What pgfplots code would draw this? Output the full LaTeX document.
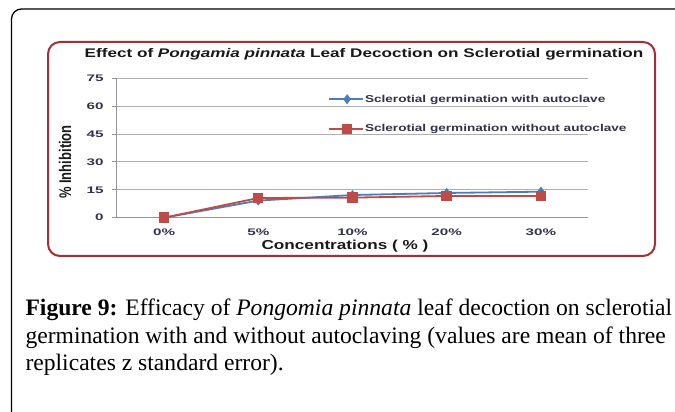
\documentclass[border=0pt]{standalone}
\usepackage{pgfplots}
\pgfplotsset{compat=1.18}
\usepackage{fontspec}
\setmainfont{Liberation Serif}
\newfontfamily\arialf{Liberation Sans}
\usepackage{graphicx}

\definecolor{serblue}{RGB}{74,126,187}
\definecolor{serred}{RGB}{190,75,72}
\definecolor{framered}{RGB}{160,50,55}
\definecolor{gridgray}{RGB}{175,175,175}
\definecolor{ticktext}{RGB}{50,50,75}

\begin{document}
\begin{tikzpicture}[x=1pt,y=1pt]
\useasboundingbox (0,0) rectangle (675,412);
\fill[white] (0,0) rectangle (675,412);
\draw[line width=1.3pt, rounded corners=10pt] (11.5,-5) -- (11.5,403) -- (690,403);
\draw[framered, line width=2pt, rounded corners=12pt] (48,156) rectangle (655,370);
\begin{axis}[
  at={(117pt,194.3pt)}, anchor=south west, scale only axis,
  width=471pt, height=139.4pt,
  xmin=-0.5, xmax=4.5, ymin=0, ymax=75,
  clip=false,
  axis lines*=left,
  axis line style={gridgray!85!black, line width=1pt},
  tick align=outside, tick pos=left,
  major tick length=5pt,
  tick style={gridgray!85!black, line width=1pt},
  ytick={0,15,30,45,60,75},
  yticklabels={\scalebox{1.6}[1]{0},\scalebox{1.6}[1]{15},\scalebox{1.6}[1]{30},\scalebox{1.6}[1]{45},\scalebox{1.6}[1]{60},\scalebox{1.6}[1]{75}},
  ymajorgrids, grid style={gridgray, line width=0.9pt},
  xtick={0,1,2,3,4},
  xticklabels={\scalebox{1.6}[1]{0\%},\scalebox{1.6}[1]{5\%},\scalebox{1.6}[1]{10\%},\scalebox{1.6}[1]{20\%},\scalebox{1.6}[1]{30\%}},
  x tick style={draw=none},
  extra x ticks={-0.5,0.5,1.5,2.5,3.5,4.5},
  extra x tick labels={},
  extra x tick style={grid=none, tick style={draw=gridgray!85!black, line width=1pt}},
  ticklabel style={font=\arialf\bfseries\fontsize{9.5}{10}\selectfont, text=ticktext},
  yticklabel style={xshift=-5pt},
  xticklabel style={yshift=-3pt},
  legend style={at={(0.448,0.89)}, anchor=north west, draw=none, fill=none,
    inner sep=0pt, row sep=19pt,
    font=\arialf\bfseries\fontsize{10}{11}\selectfont, text=ticktext,
    nodes={inner sep=1pt}},
  legend cell align=left,
  legend image code/.code={\draw[mark repeat=2,mark phase=2,#1] plot coordinates {(0pt,0pt)(18pt,0pt)(34pt,0pt)};},
]
\addplot[serblue, line width=1.8pt, mark=diamond*, mark size=3.6pt, mark options={solid, fill=serblue}]
  coordinates {(0,0) (1,9.2) (2,12.2) (3,13.3) (4,14.0)};
\addlegendentry{\scalebox{1.36}[1]{Sclerotial germination with autoclave}}
\addplot[serred, line width=1.8pt, mark=square*, mark size=4.3pt, mark options={solid, fill=serred}]
  coordinates {(0,0) (1,10.6) (2,10.8) (3,11.7) (4,11.7)};
\addlegendentry{\scalebox{1.36}[1]{Sclerotial germination without autoclave}}
\end{axis}
\node[anchor=base, font=\arialf\bfseries\fontsize{12.5}{13}\selectfont, text=black!90] at (364,354.7)
  {\scalebox{1.37}[1]{Effect of \textit{Pongamia pinnata} Leaf Decoction on Sclerotial germination}};
\node[rotate=90, font=\arialf\bfseries\fontsize{13}{14}\selectfont, text=black!90] at (65,250)
  {\scalebox{1}[1.3]{\% Inhibition}};
\node[font=\arialf\bfseries\fontsize{13}{14}\selectfont, text=black!90] at (345,166)
  {\scalebox{1.32}[1]{Concentrations ( \% )}};
\node[anchor=base west, font=\fontsize{23.6}{26}\selectfont] at (22,96)
  {\textbf{Figure 9:} Efficacy of \textit{Pongomia pinnata} leaf decoction on sclerotial};
\node[anchor=base west, font=\fontsize{23.6}{26}\selectfont] at (22,68.5)
  {germination with and without autoclaving (values are mean of three};
\node[anchor=base west, font=\fontsize{23.6}{26}\selectfont] at (22,41)
  {replicates z standard error).};
\end{tikzpicture}
\end{document}
